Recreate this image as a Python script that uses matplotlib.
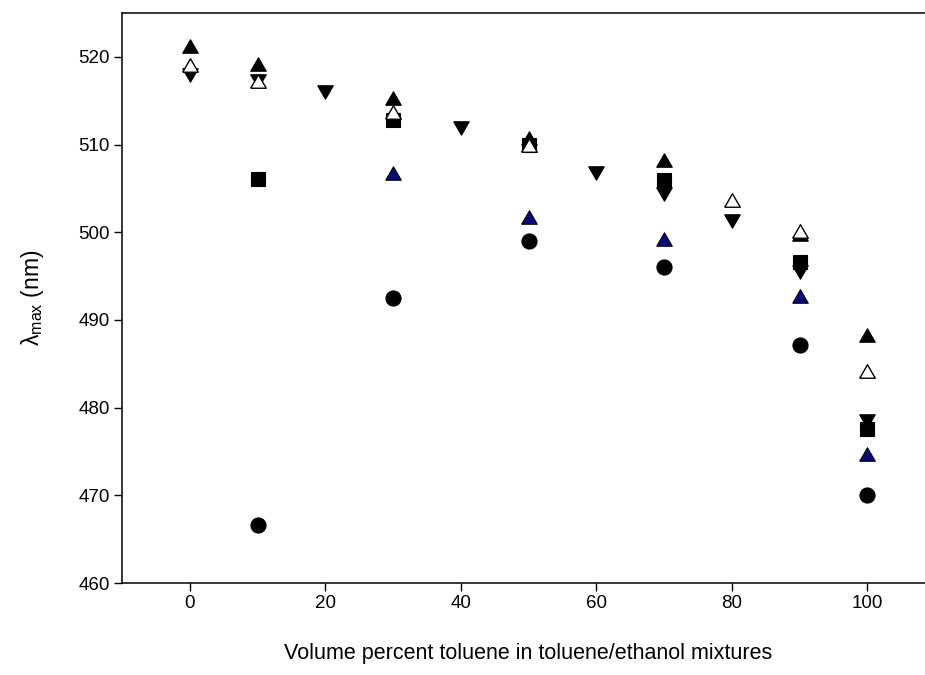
import matplotlib
matplotlib.use("Agg")
import matplotlib.pyplot as plt

plt.rcParams["font.family"] = ["Liberation Sans", "DejaVu Sans"]
plt.rcParams["mathtext.fontset"] = "custom"
plt.rcParams["mathtext.rm"] = "Liberation Sans"
plt.rcParams["mathtext.it"] = "Liberation Sans:italic"

# Absorption maxima (nm) versus volume percent toluene
x_up_filled = [0, 10, 30, 50, 70, 90, 100]
y_up_filled = [521.2, 519.2, 515.3, 510.8, 508.2, 499.8, 488.3]

x_up_open = [0, 10, 30, 50, 80, 90, 100]
y_up_open = [519.1, 517.3, 513.7, 509.9, 503.7, 500.1, 484.2]

x_down = [0, 10, 20, 40, 60, 70, 80, 90, 100]
y_down = [517.9, 517.3, 516.0, 511.9, 506.8, 504.4, 501.3, 495.5, 478.5]

x_square = [10, 30, 50, 70, 90, 100]
y_square = [506.1, 512.8, 509.9, 506.0, 496.6, 477.6]

x_up_navy = [30, 50, 70, 90, 100]
y_up_navy = [506.7, 501.7, 499.2, 492.7, 474.7]

x_circle = [10, 30, 50, 70, 90, 100]
y_circle = [466.6, 492.5, 499.05, 496.0, 487.1, 470.0]

x_ticks = [0, 20, 40, 60, 80, 100]
y_ticks = [460, 470, 480, 490, 500, 510, 520]

# equilateral-looking triangle markers
tri_up = [(-1, -0.866), (1, -0.866), (0, 0.866), (-1, -0.866)]
tri_down = [(-1, 0.866), (1, 0.866), (0, -0.866), (-1, 0.866)]

fig = plt.figure(figsize=(9.25, 6.75), dpi=100)
ax = fig.add_axes([122 / 925, 1 - 583 / 675, (935 - 122) / 925, (583 - 13) / 675])

ms = 11.2
ew = 0.8
ax.plot(x_down, y_down, linestyle="none", marker=tri_down, ms=ms,
        mfc="black", mec="black", mew=ew)
ax.plot(x_square, y_square, linestyle="none", marker="s", ms=ms * 0.9,
        mfc="black", mec="black", mew=ew)
ax.plot(x_up_filled, y_up_filled, linestyle="none", marker=tri_up, ms=ms,
        mfc="black", mec="black", mew=ew)
ax.plot(x_up_navy, y_up_navy, linestyle="none", marker=tri_up, ms=ms,
        mfc="#0b0b78", mec="black", mew=ew)
ax.plot(x_circle, y_circle, linestyle="none", marker="o", ms=ms * 0.97,
        mfc="black", mec="black", mew=ew)
ax.plot(x_up_open, y_up_open, linestyle="none", marker=tri_up, ms=ms,
        mfc="white", mec="black", mew=1.0)

ax.set_xlim(-10, 110)
ax.set_ylim(460, 525)
ax.set_xticks(x_ticks)
ax.set_yticks(y_ticks)

for s in ("top", "left", "bottom"):
    ax.spines[s].set_linewidth(1.1)
ax.spines["right"].set_visible(False)

ax.tick_params(direction="out", length=6, width=1.0, labelsize=13.5,
               top=False, right=False)
ax.tick_params(axis="y", pad=3)
ax.tick_params(axis="x", pad=3)

ax.set_xlabel("Volume percent toluene in toluene/ethanol mixtures", fontsize=15.5, labelpad=22)
ax.set_ylabel(r"$\mathrm{\lambda}_{\mathrm{max}}$ (nm)", fontsize=16.5, labelpad=23)

fig.savefig("out.png", dpi=100)
